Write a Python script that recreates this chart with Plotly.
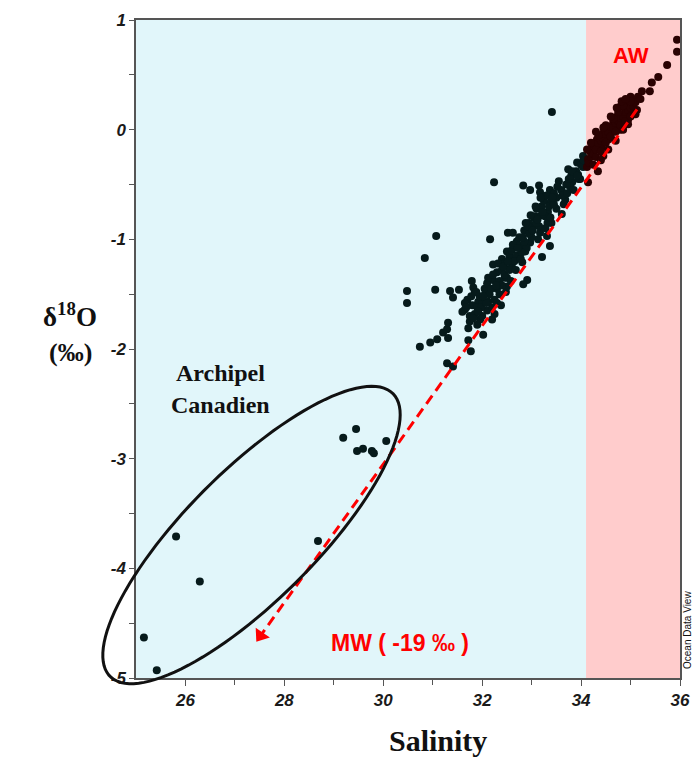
import numpy as np
import plotly.graph_objects as go

# ---------------- data ----------------
sal = [
    # Canadian Archipelago group
    29.19, 29.45, 29.47, 29.59, 29.77, 29.81, 30.06, 28.68, 25.81, 26.29, 25.16, 25.42,
    # scattered mid-salinity
    30.48, 30.48, 30.74, 30.84, 30.95, 31.05, 31.07, 31.09, 31.21, 31.29, 31.31, 31.31,
    31.35, 31.41, 31.53, 31.29, 31.41, 31.72, 31.72, 31.77, 32.02, 31.65, 31.75, 31.96,
    32.20, 31.79, 31.82, 31.85, 32.06, 32.12, 31.92, 32.16, 32.52, 32.50, 32.40, 32.22,
    32.22,
    # upper band
    32.24, 32.83, 32.97, 33.15, 33.17, 33.37, 33.55, 33.74, 33.92, 34.04, 33.82, 33.94,
    33.68, 33.61, 33.39, 33.33, 33.27, 33.07, 33.03, 32.91, 33.17, 33.31, 32.62, 33.37,
    33.13, 32.97, 32.77, 32.87, 33.21, 32.62, 32.81, 32.56, 32.46, 32.91, 32.83, 32.50,
    34.04, 33.98, 33.78, 33.64, 33.41,
    # dense band
    31.70, 31.80, 31.90, 32.00, 32.10, 31.85, 31.95, 32.05, 32.15, 32.25, 32.30, 32.35,
    32.20, 31.75, 31.90, 32.00, 31.65, 31.60, 32.10, 32.30, 32.40, 32.45, 32.55, 32.60,
    32.70, 32.75, 32.85, 32.95, 33.05, 33.10, 33.20, 33.25, 33.30, 33.45, 33.50, 33.60,
    33.70, 33.75, 33.80, 33.90, 34.00, 34.05, 33.95, 33.85, 33.65, 33.50, 33.40, 33.15,
    33.00, 32.90, 32.70, 32.60, 32.50, 32.35, 32.25, 32.30, 32.40, 32.45, 32.55, 32.65,
    32.80, 32.85, 32.95, 33.10, 33.20, 33.35, 33.45,
    31.68, 31.78, 31.88, 31.98, 32.08, 32.18, 32.28, 31.82, 31.92, 32.02, 32.12, 32.22,
    32.32, 32.42, 32.52, 32.62, 32.72, 32.82, 32.92, 33.02, 33.12, 33.22, 33.32, 33.42,
    33.52, 33.62, 33.72, 33.82, 33.92, 32.38, 32.48, 32.58, 32.68, 32.78, 32.88, 32.98,
    33.08, 33.18, 33.28, 33.38,
    # Atlantic Water
    35.94, 35.94, 35.74, 35.56, 35.43, 35.39, 35.23, 35.15, 35.09, 35.00, 34.93, 34.79,
    34.99, 34.89, 34.73, 35.13, 34.95, 34.65, 34.59, 34.79, 34.45, 34.55, 34.32, 34.24,
    34.42, 34.18, 34.45, 34.14, 34.34, 34.12, 34.14,
    34.15, 34.20, 34.25, 34.30, 34.35, 34.40, 34.45, 34.50, 34.55, 34.60, 34.65, 34.70,
    34.75, 34.80, 34.85, 34.90, 34.95, 35.00, 35.05, 35.10, 35.20, 34.30, 34.40, 34.50,
    34.60, 34.70, 34.80, 34.90, 35.00, 34.20, 34.35, 34.50, 34.65, 34.75, 34.85, 35.00,
    34.25, 34.40, 34.55, 34.70, 34.85, 34.95, 35.10, 34.12, 34.30, 34.45, 34.60, 34.72,
    34.82, 34.90,
]
d18o = [
    -2.81, -2.73, -2.93, -2.91, -2.93, -2.95, -2.84, -3.75, -3.71, -4.12, -4.63, -4.93,
    -1.47, -1.58, -1.98, -1.17, -1.94, -1.46, -0.97, -1.91, -1.85, -1.82, -1.76, -1.90,
    -1.47, -1.53, -1.46, -2.13, -2.16, -1.81, -1.92, -2.02, -1.87, -1.64, -1.70, -1.73,
    -1.73, -1.38, -1.44, -1.48, -1.50, -1.57, -1.57, -1.00, -0.94, -1.11, -1.18, -1.23,
    -1.37,
    -0.48, -0.51, -0.55, -0.51, -0.57, -0.55, -0.47, -0.36, -0.30, -0.24, -0.48, -0.41,
    -0.64, -0.77, -0.66, -0.75, -0.79, -0.79, -0.88, -0.91, -0.94, -0.97, -0.94, -1.06,
    -1.00, -1.03, -1.06, -1.11, -1.16, -1.18, -1.21, -1.27, -1.35, -1.37, -1.41, -1.43,
    -0.34, -0.45, -0.52, -0.58, 0.16,
    -1.55, -1.60, -1.62, -1.58, -1.65, -1.68, -1.52, -1.45, -1.50, -1.55, -1.45, -1.38,
    -1.62, -1.75, -1.78, -1.70, -1.58, -1.66, -1.40, -1.30, -1.28, -1.22, -1.15, -1.10,
    -1.02, -0.98, -0.92, -0.85, -0.80, -0.72, -0.70, -0.65, -0.60, -0.58, -0.62, -0.55,
    -0.50, -0.45, -0.42, -0.38, -0.32, -0.28, -0.45, -0.55, -0.68, -0.72, -0.85, -0.88,
    -0.98, -1.08, -1.15, -1.25, -1.35, -1.50, -1.68, -1.58, -1.42, -1.32, -1.28, -1.20,
    -1.12, -1.02, -0.95, -0.85, -0.78, -0.70, -0.68,
    -1.62, -1.52, -1.48, -1.62, -1.58, -1.45, -1.42, -1.72, -1.66, -1.52, -1.35, -1.32,
    -1.22, -1.25, -1.20, -1.05, -1.08, -0.98, -0.88, -0.92, -0.82, -0.75, -0.85, -0.62,
    -0.52, -0.60, -0.58, -0.38, -0.42, -1.60, -1.48, -1.38, -1.28, -1.18, -0.85, -0.78,
    -0.70, -0.62, -0.90, -0.80,
    0.82, 0.71, 0.59, 0.48, 0.43, 0.35, 0.35, 0.30, 0.26, 0.30, 0.25, 0.21,
    0.18, 0.14, 0.12, 0.18, 0.09, 0.07, 0.00, 0.00, -0.03, -0.09, -0.09, -0.15,
    -0.16, -0.20, -0.24, -0.27, -0.38, -0.34, -0.48,
    -0.30, -0.25, -0.22, -0.18, -0.12, -0.10, -0.08, -0.04, -0.02, 0.03, 0.02, 0.06,
    0.08, 0.10, 0.12, 0.16, 0.18, 0.20, 0.22, 0.25, 0.28, -0.25, -0.20, -0.12,
    -0.06, -0.02, 0.04, 0.08, 0.12, -0.12, -0.05, 0.04, 0.10, 0.16, 0.22, 0.26,
    -0.32, -0.28, -0.18, -0.10, 0.00, 0.05, 0.14, -0.18, -0.02, 0.02, 0.12, 0.20,
    0.26, 0.28,
]

aw_limit = 34.1                       # start of Atlantic Water zone
mix_x = [35.13, 27.52]                # mixing line towards MW
mix_y = [0.185, -4.614]
x_ticks = [26, 28, 30, 32, 34, 36]
x_minor = [27, 29, 31, 33, 35]
y_ticks = [-5, -4, -3, -2, -1, 0, 1]
x_range = [25, 36]
y_range = [-5, 1]

# ---------------- figure ----------------
sal_a = np.array(sal)
d_a = np.array(d18o)
colors = np.where(sal_a >= aw_limit, "#2a0202", "#061a1b")

fig = go.Figure()
fig.add_trace(go.Scatter(
    x=sal_a, y=d_a, mode="markers",
    marker=dict(size=8, color=colors, line=dict(width=0)),
    hoverinfo="x+y",
))
fig.add_trace(go.Scatter(
    x=mix_x, y=mix_y, mode="lines",
    line=dict(color="#ff0000", width=3, dash="10px,6px"),
    hoverinfo="skip",
))
fig.add_trace(go.Scatter(
    x=[mix_x[1]], y=[mix_y[1]], mode="markers",
    marker=dict(symbol="triangle-up", size=15, color="#ff0000", angle=215),
    hoverinfo="skip", cliponaxis=False,
))

# plot geometry (pixels)
W, H = 692, 758
L, R, T, B = 136, 12, 20, 80
pw, ph = W - L - R, H - T - B

def paper(px, py):
    return (px - L) / pw, (H - B - py) / ph

# ellipse around Canadian Archipelago points (pixel space, rotated 45 deg)
cx, cy, a, b, th = 251.5, 535.0, 200.0, 65.0, np.deg2rad(45)
t = np.linspace(0, 2 * np.pi, 120)
ex = cx + a * np.cos(t) * np.cos(th) + b * np.sin(t) * np.sin(th)
ey = cy - a * np.cos(t) * np.sin(th) + b * np.sin(t) * np.cos(th)
pts = [paper(px, py) for px, py in zip(ex, ey)]
path = "M " + " L ".join(f"{u:.5f},{v:.5f}" for u, v in pts) + " Z"

shapes = [
    dict(type="rect", xref="x", yref="y", x0=aw_limit, x1=x_range[1], y0=y_range[0], y1=y_range[1],
         fillcolor="rgb(255,204,204)", line=dict(width=0), layer="below"),
    dict(type="path", xref="paper", yref="paper", path=path,
         line=dict(color="#111", width=3), layer="above"),
]

tickfont = dict(family="Liberation Sans, Arial", size=17, color="#1a1a1a", weight="bold", style="italic")
serif = "Liberation Serif, Times New Roman"

def ann(text, px, py, size, color, family, **kw):
    x, y = paper(px, py)
    d = dict(text=text, x=x, y=y, xref="paper", yref="paper", showarrow=False,
             font=dict(size=size, color=color, family=family, weight="bold"),
             xanchor="center", yanchor="middle")
    d.update(kw)
    return d

annotations = [
    ann("δ<sup>18</sup>O", 70, 315, 27, "#111", serif),
    ann("(‰)", 70, 352, 26, "#111", serif),
    ann("Salinity", 438, 740, 30, "#111", serif),
    ann("Archipel", 220, 373, 24, "#111", serif),
    ann("Canadien", 220, 405, 24, "#111", serif),
    ann("AW", 631, 56, 22, "#ff0000", "Liberation Sans, Arial"),
    ann("MW ( -19 ‰ )", 400, 643, 23, "#ff0000", "Liberation Sans, Arial"),
    dict(text="Ocean Data View", x=paper(687, 630)[0], y=paper(687, 630)[1], xref="paper", yref="paper",
         showarrow=False, textangle=-90, font=dict(size=10, color="#111", family="Liberation Sans, Arial"),
         xanchor="center", yanchor="middle"),
]

fig.update_layout(
    width=W, height=H,
    margin=dict(l=L, r=R, t=T, b=B, autoexpand=False),
    plot_bgcolor="rgb(225,246,250)",
    paper_bgcolor="white",
    showlegend=False,
    shapes=shapes,
    annotations=annotations,
    xaxis=dict(range=x_range, tickvals=x_ticks, ticktext=[str(v) for v in x_ticks],
               ticks="outside", ticklen=6, tickwidth=1.3, tickcolor="#555",
               showline=True, linecolor="#555", linewidth=1.5, mirror=True,
               showgrid=False, zeroline=False, tickfont=tickfont, automargin=False,
               minor=dict(tickvals=x_minor, ticks="outside", ticklen=5, tickwidth=1.3, tickcolor="#555", showgrid=False)),
    yaxis=dict(range=y_range, tickvals=y_ticks, ticktext=[str(v) for v in y_ticks],
               ticks="outside", ticklen=5, tickwidth=1.3, tickcolor="#555",
               showline=True, linecolor="#555", linewidth=1.5, mirror=True,
               showgrid=False, zeroline=False, tickfont=tickfont, automargin=False,
               minor=dict(dtick=0.5, ticks="outside", ticklen=5, tickwidth=1.3, tickcolor="#555", showgrid=False)),
)

fig.write_html(
    "out.html",
    config={"displayModeBar": False},
    post_script="document.body.style.margin='0';document.body.style.padding='0';document.body.style.overflow='hidden';",
)
